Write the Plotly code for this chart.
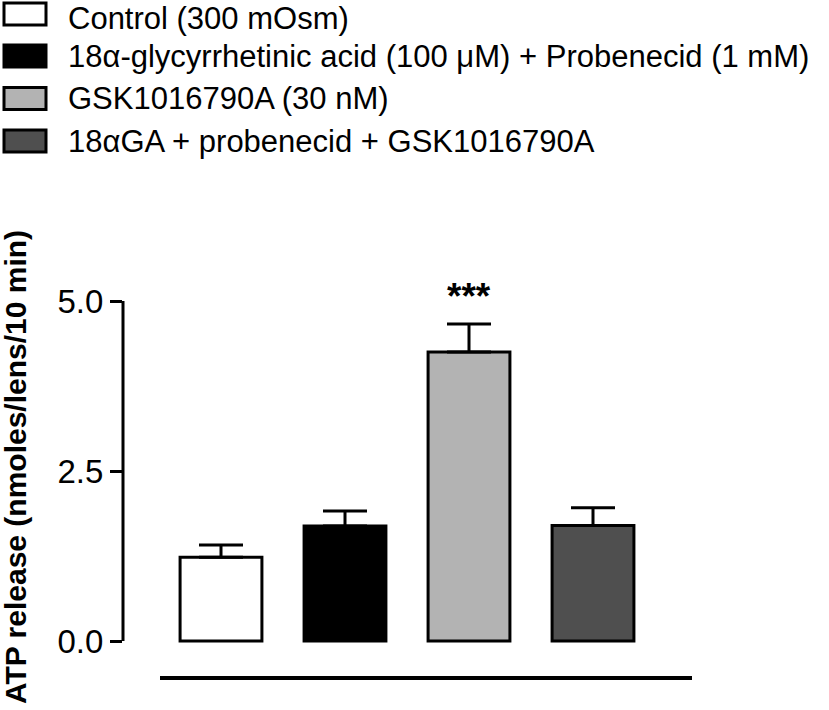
import plotly.graph_objects as go

# ---- data ----
groups = ["Control (300 mOsm)",
          "18α-glycyrrhetinic acid (100 μM) + Probenecid (1 mM)",
          "GSK1016790A (30 nM)",
          "18αGA + probenecid + GSK1016790A"]
means = [1.23, 1.69, 4.25, 1.70]
sems = [0.18, 0.22, 0.41, 0.26]
colors = ["#ffffff", "#000000", "#b3b3b3", "#4f4f4f"]
tick_vals = [0, 2.5, 5.0]
tick_text = ["0.0", "2.5", "5.0"]
sig_label = "***"
sig_index = 2
y_title = "ATP release (nmoles/lens/10 min)"

FONT = "Liberation Sans, Arial, Helvetica, sans-serif"
W, H = 829, 710
L, R, T, B = 123, 100, 250, 10
PW, PH = W - L - R, H - T - B

def px(xp):
    return (xp - L) / PW

def py(yp):
    return (H - B - yp) / PH

xs = list(range(len(means)))

fig = go.Figure()
fig.add_trace(go.Bar(
    x=xs, y=means, width=0.66,
    marker=dict(color=colors, line=dict(color="black", width=3)),
    error_y=dict(type="data", array=sems, arrayminus=[0] * len(sems),
                 symmetric=False, color="black", thickness=3, width=22),
    showlegend=False, hoverinfo="skip",
))

shapes = []
# y axis line spanning 0..5 only
shapes.append(dict(type="line", xref="paper", yref="y", x0=0, x1=0,
                   y0=tick_vals[0], y1=tick_vals[-1],
                   line=dict(color="black", width=3)))
# offset x axis line
shapes.append(dict(type="line", xref="paper", yref="paper",
                   x0=px(160), x1=px(692), y0=py(678), y1=py(678),
                   line=dict(color="black", width=4)))

annotations = []
# legend (manual)
box_y = [14, 56, 98.5, 141]
text_y = [18, 56, 98.5, 141]
for lab, col, yb, yt in zip(groups, colors, box_y, text_y):
    shapes.append(dict(type="rect", xref="paper", yref="paper",
                       x0=px(4), x1=px(46), y0=py(yb - 11), y1=py(yb + 11),
                       fillcolor=col, line=dict(color="black", width=3)))
    annotations.append(dict(text=lab, xref="paper", yref="paper",
                            x=px(67), y=py(yt), xanchor="left", yanchor="middle",
                            showarrow=False, borderpad=0,
                            font=dict(family=FONT, size=31, color="black")))

# significance
annotations.append(dict(text="<b>" + sig_label + "</b>", x=sig_index,
                        y=means[sig_index] + sems[sig_index],
                        xref="x", yref="y", xanchor="center", yanchor="bottom",
                        yshift=5, showarrow=False,
                        font=dict(family=FONT, size=37, color="black")))
# y title
annotations.append(dict(text="<b>" + y_title + "</b>", xref="paper", yref="paper",
                        x=px(15), y=py(467), xanchor="center", yanchor="middle",
                        textangle=-90, showarrow=False, borderpad=0,
                        font=dict(family=FONT, size=30, color="black")))

fig.update_layout(
    width=W, height=H,
    margin=dict(l=L, r=R, t=T, b=B),
    paper_bgcolor="white", plot_bgcolor="white",
    xaxis=dict(visible=False, range=[(L - 221) / 124, (W - R - 221) / 124]),
    yaxis=dict(range=[-(H - B - 641) / 68, (641 - T) / 68],
               tickvals=tick_vals, ticktext=tick_text,
               ticks="outside", ticklen=12, tickwidth=3, tickcolor="black",
               showgrid=False, zeroline=False, showline=False,
               tickfont=dict(family=FONT, size=33, color="black")),
    shapes=shapes, annotations=annotations,
    font=dict(family=FONT),
    showlegend=False,
)

fig.write_html("out.html", config={"displayModeBar": False},
               post_script="document.body.style.margin='0';document.body.style.overflow='hidden';")
